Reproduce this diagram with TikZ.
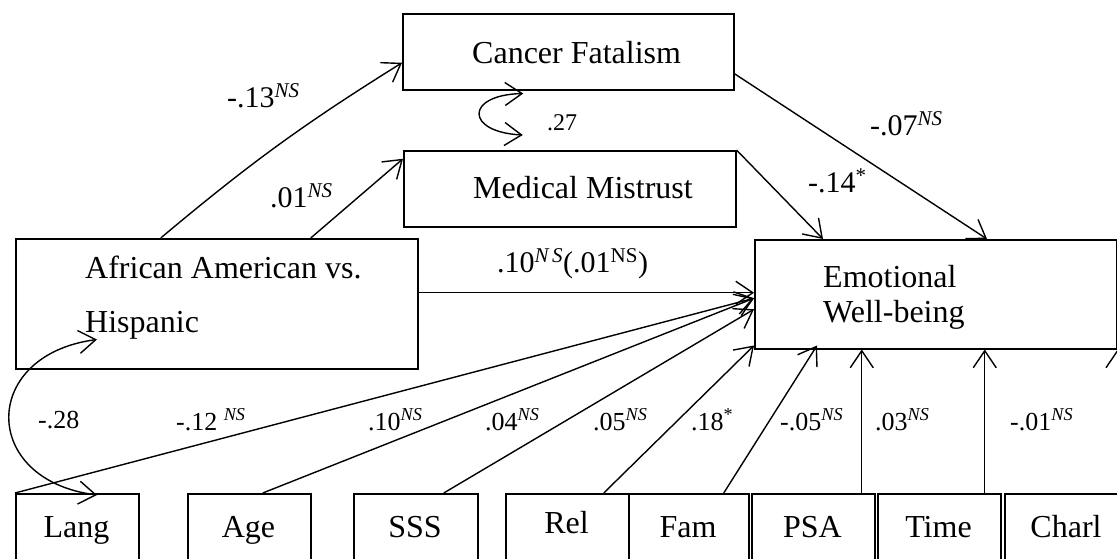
\documentclass[tikz,border=0pt]{standalone}
\usepackage{fontspec}
\setmainfont{Liberation Serif}
\usetikzlibrary{arrows.meta,calc}
\begin{document}
\begin{tikzpicture}[x=1pt,y=-1pt,
  box/.style={draw, line width=1.5pt, rectangle, anchor=north west, inner sep=0pt},
  arr/.style={line width=1.4pt, -{Straight Barb[length=17pt,width=23pt]}},
  dbl/.style={line width=1.4pt, {Straight Barb[length=17pt,width=23pt]}-{Straight Barb[length=17pt,width=23pt]}},
  boxtext/.style={font=\fontsize{32}{38}\selectfont, inner sep=0pt},
  big/.style={font=\fontsize{30}{36}\selectfont, inner sep=0pt, anchor=base west},
  small/.style={font=\fontsize{26}{31}\selectfont, inner sep=0pt, anchor=base west},
  tiny/.style={font=\fontsize{24}{29}\selectfont, inner sep=0pt, anchor=base west}
]
\useasboundingbox (0,0) rectangle (1117,558);
% boxes
\node[box, minimum width=331pt, minimum height=76pt] (canc) at (402,13) {};
\node[box, minimum width=332pt, minimum height=76pt] (med) at (403,150) {};
\node[box, minimum width=402pt, minimum height=130pt] (afr) at (15,238) {};
\node[box, minimum width=362pt, minimum height=109pt] (emo) at (754,239) {};
\node[box, minimum width=123pt, minimum height=80pt] (lang) at (15,493) {};
\node[box, minimum width=123pt, minimum height=80pt] (age) at (187,493) {};
\node[box, minimum width=124pt, minimum height=80pt] (sss) at (353,493) {};
\node[box, minimum width=123pt, minimum height=80pt] (rel) at (505,493) {};
\node[box, minimum width=120pt, minimum height=80pt] (fam) at (628,493) {};
\node[box, minimum width=123pt, minimum height=80pt] (psa) at (751,493) {};
\node[box, minimum width=123pt, minimum height=80pt] (time) at (877,493) {};
\node[box, minimum width=124pt, minimum height=80pt] (charl) at (1004,493) {};
% box texts
\node[boxtext, anchor=base west] (tcanc) at (472,63) {Cancer Fatalism};
\node[boxtext, anchor=base west] (tmed) at (473,198) {Medical Mistrust};
\node[boxtext, anchor=base west] (tafr1) at (85,278) {African American vs.};
\node[boxtext, anchor=base west] (tafr2) at (85,332) {Hispanic};
\node[boxtext, anchor=base west] (temo1) at (823,287) {Emotional};
\node[boxtext, anchor=base west] (temo2) at (823,322) {Well-being};
\node[boxtext, anchor=base] (tlang) at (76.5,537) {Lang};
\node[boxtext, anchor=base] (tage) at (248.5,537) {Age};
\node[boxtext, anchor=base] (tsss) at (415,537) {SSS};
\node[boxtext, anchor=base] (trel) at (566.5,533) {Rel};
\node[boxtext, anchor=base] (tfam) at (688,537) {Fam};
\node[boxtext, anchor=base] (tpsa) at (812.5,537) {PSA};
\node[boxtext, anchor=base] (ttime) at (938.5,537) {Time};
\node[boxtext, anchor=base] (tcharl) at (1066,537) {Charl};
% connectors
\draw[arr] ([xshift=-56pt]afr.north) to[bend left=4] ([yshift=-11pt]canc.west);
\draw[arr] ([xshift=94pt]afr.north) -- ([yshift=30pt]med.west);
\draw[arr] ([yshift=-22pt]canc.east) -- ([xshift=233pt]emo.north west);
\draw[arr] (med.north east) -- ([xshift=69pt]emo.north west);
\coordinate (afrE) at ([yshift=11pt]afr.east);
\draw[arr] (afrE) -- (afrE -| emo.west);
\draw[arr] (lang.north west) -- ([yshift=-4pt]emo.west);
\draw[arr] ([xshift=13.5pt]age.north) -- ([yshift=-4pt]emo.west);
\draw[arr] ([xshift=28pt]sss.north) -- ([yshift=-15pt]emo.west);
\draw[arr] ([xshift=36.5pt]rel.north) -- ([yshift=4pt]emo.south west);
\draw[arr] ([xshift=35pt]fam.north) -- ([xshift=63pt,yshift=4pt]emo.south west);
\coordinate (psaS) at ([xshift=48.5pt]psa.north);
\draw[arr] (psaS) -- (psaS |- emo.south);
\coordinate (timeS) at ([xshift=45.5pt]time.north);
\draw[arr] (timeS) -- (timeS |- emo.south);
\draw[arr] (emo.south east |- charl.north) -- (emo.south east);
% correlations
\coordinate (c1) at ([xshift=-45pt,yshift=-3pt]canc.south);
\coordinate (c2) at ([xshift=-47pt,yshift=15pt]med.north);
\draw[dbl] (c1) .. controls (465,95) and (465,132) .. (c2);
\coordinate (h1) at ([xshift=82pt,yshift=30pt]afr.south west);
\coordinate (h2) at ([xshift=82pt,yshift=-2pt]lang.north west);
\draw[dbl] (h1) .. controls (-20,355) and (-20,480) .. (h2);
% labels
\node[big] (l1) at (227,107) {-.13\textsuperscript{\itshape NS}};
\node[big] (l2) at (270,207) {.01\textsuperscript{\itshape NS}};
\node[tiny] (l3) at (547,130) {.27};
\node[big] (l4) at (870,135) {-.07\textsuperscript{\itshape NS}};
\node[big] (l5) at (808,192) {-.14\textsuperscript{*}};
\node[big] (l6) at (497,272) {.10\textsuperscript{\itshape N\,S}(.01\textsuperscript{NS})};
\node[small] (l7) at (38,428) {-.28};
\node[small] (l8) at (176,430) {-.12 \textsuperscript{\itshape NS}};
\node[small] (l9) at (368,430) {.10\textsuperscript{\itshape NS}};
\node[small] (l10) at (485,430) {.04\textsuperscript{\itshape NS}};
\node[small] (l11) at (593,430) {.05\textsuperscript{\itshape NS}};
\node[small] (l12) at (691,430) {.18\textsuperscript{*}};
\node[small] (l13) at (780,430) {-.05\textsuperscript{\itshape NS}};
\node[small] (l14) at (875,430) {.03\textsuperscript{\itshape NS}};
\node[small] (l15) at (1010,430) {-.01\textsuperscript{\itshape NS}};
\end{tikzpicture}
\end{document}
